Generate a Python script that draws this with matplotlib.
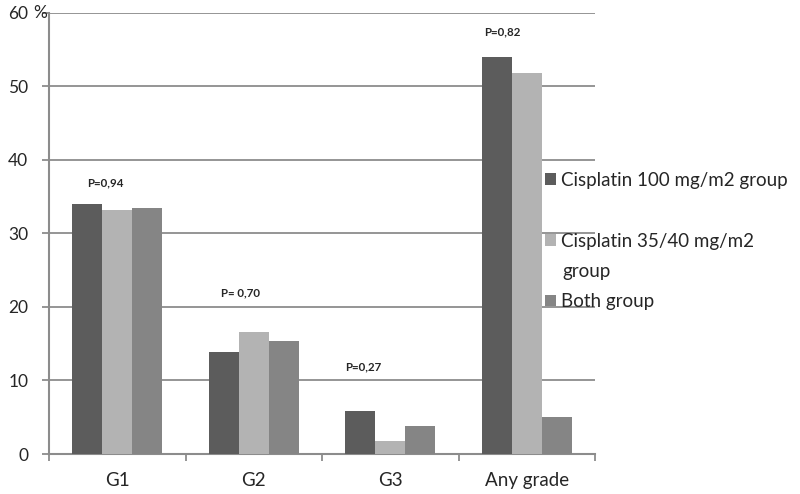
import matplotlib.pyplot as plt
import numpy as np

# data
categories = ["G1", "G2", "G3", "Any grade"]
cis100 = [34.0, 13.9, 5.8, 54.0]
cis35 = [33.2, 16.6, 1.8, 51.8]
both = [33.5, 15.3, 3.8, 5.0]
p_labels = ["P=0,94", "P= 0,70", "P=0,27", "P=0,82"]
p_y = [36.8, 21.9, 11.9, 57.4]
p_dx = [-0.09, -0.10, -0.20, -0.18]
series_names = ["Cisplatin 100 mg/m2 group", "Cisplatin 35/40 mg/m2", "Both group"]

plt.rcParams["font.family"] = ["Lato", "DejaVu Sans"]
grid_col = "#8c8c8c"
txt_col = "#262626"
colors = ["#5c5c5c", "#b3b3b3", "#858585"]

fig = plt.figure(figsize=(8, 4.94), dpi=100)
ax = fig.add_axes([49 / 800, 1 - 454 / 494, (595 - 49) / 800, (454 - 12.7) / 494])

x = np.arange(len(categories))
w = 0.22
bars = []
for i, vals in enumerate([cis100, cis35, both]):
  b = ax.bar(x + (i - 1) * w, vals, width=w, color=colors[i], label=series_names[i], zorder=3)
  bars.append(b)

# p-value annotations
for i in range(len(categories)):
  ax.text(x[i] + p_dx[i], p_y[i], p_labels[i], ha="center", va="center", fontsize=8.3, fontweight="bold", color=txt_col)

ax.set_xlim(-0.5, 3.5)
ax.set_ylim(0, 60)
ax.set_yticks(np.arange(0, 61, 10))
ax.set_yticklabels([str(v) for v in range(0, 61, 10)])
ax.yaxis.grid(True, color=grid_col, linewidth=1.3, zorder=0)
ax.set_axisbelow(True)

ax.set_xticks(x)
ax.set_xticklabels(categories)
ax.set_xticks(np.arange(-0.5, 3.6, 1), minor=True)
ax.tick_params(axis="x", which="major", length=0, pad=13, labelsize=13.5, colors=txt_col)
ax.tick_params(axis="x", which="minor", length=5, width=1.3, color=grid_col)
ax.tick_params(axis="y", length=5, width=1.3, color=grid_col, pad=10, labelsize=12.5, labelcolor=txt_col)

for s in ["top", "right"]:
  ax.spines[s].set_visible(False)
for s in ["left", "bottom"]:
  ax.spines[s].set_color(grid_col)
  ax.spines[s].set_linewidth(1.5)

fig.text(40 / 800, 1 - 13 / 494, "%", ha="center", va="center", fontsize=12.5, color=txt_col)

# legend
leg = fig.legend(handles=bars, loc="center left", bbox_to_anchor=(545 / 800, 1 - 241 / 494),
                 frameon=False, fontsize=13.5, handlelength=0.57, handleheight=0.57,
                 handletextpad=0.3, labelspacing=2.33, borderpad=0, borderaxespad=0)
for t in leg.get_texts():
  t.set_color(txt_col)
fig.text(562 / 800, 1 - 277 / 494, "group", ha="left", va="baseline", fontsize=13.5, color=txt_col)

plt.savefig("out.png", dpi=100)
plt.close()
